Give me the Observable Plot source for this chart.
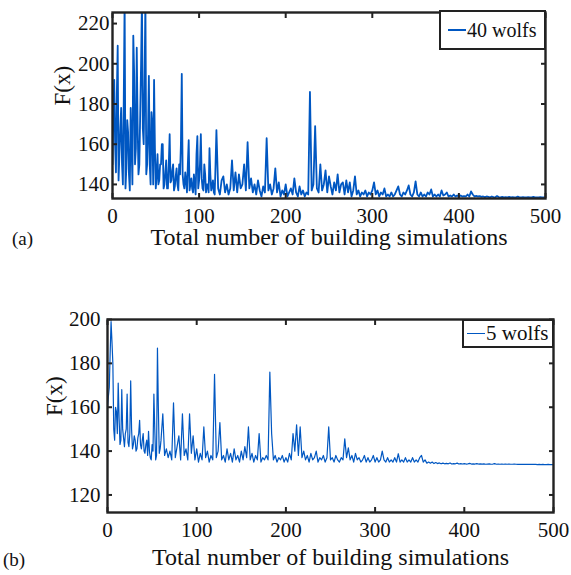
<!DOCTYPE html>
<html>
<head>
<meta charset="utf-8">
<script src="https://cdn.jsdelivr.net/npm/d3@7"></script>
<script src="https://cdn.jsdelivr.net/npm/@observablehq/plot@0.6"></script>
<style>
  html, body { margin: 0; padding: 0; background: #fff; }
  #wrap { position: relative; width: 571px; height: 575px; font-family: "Liberation Serif", "Times New Roman", serif; color: #111; }
  .panel { position: absolute; left: 0; }
  .legend { position: absolute; background: #fff; border: 2px solid #222; box-sizing: border-box; display: flex; align-items: center; white-space: nowrap; }
  .legend .sw { display: inline-block; height: 1.6px; background: #0057c2; margin-right: 1px; }
  .tag { position: absolute; font-size: 19px; }
</style>
</head>
<body>
<div id="wrap"></div>
<script>
// ---- data ----
const xTicks = [0, 100, 200, 300, 400, 500];
const yTicksA = [140, 160, 180, 200, 220];
const yTicksB = [120, 140, 160, 180, 200];
const xLabel = "Total number of building simulations";
const yLabel = "F(x)";
const seriesNameA = "40 wolfs";
const seriesNameB = "5 wolfs";
// F(x) at even simulations 0,2,...,500 — 40 wolfs
const wolfs40 = [
  150,192,146,209,155,178,140,232,148,166,
  137,160,214,150,208,145,175,232,160,232,
  150,194,140,170,192,138,155,142,150,160,
  140,152,138,165,142,150,139,148,137,145,
  195,140,146,136,162,140,138,145,135,164,
  142,165,138,150,136,140,158,137,142,135,
  167,138,135,142,144,136,140,135,138,152,
  137,146,136,145,138,140,150,137,161,138,
  143,136,140,135,142,137,134,139,136,163,
  137,140,135,138,148,136,141,134,137,135,
  140,134,136,138,135,143,136,134,139,135,
  137,134,136,135,186,137,140,169,138,136,
  150,137,140,147,136,144,139,135,141,137,
  145,136,140,141,135,142,136,141,134,137,
  144,135,137,134,136,135,137,134,136,135,
  137,141,135,137,134,136,135,138,134,135,
  134,136,134,135,137,139,135,134,136,135,
  137,139.5,135,134,136,141.5,135,134,136,134,
  135,134,136,135,137.5,134,135,134,135,134,
  137,134.5,135,136,134,134.5,134,135,134,134.5,
  134,134.5,134,134.2,134,135,134,136.5,135,134,
  134.3,134,134.2,133.8,134,133.7,134,133.8,133.6,134,
  133.7,133.6,134.2,133.7,133.6,133.8,133.6,133.7,133.6,133.8,
  133.6,133.7,133.6,133.6,133.9,133.6,133.6,133.7,133.6,133.6,
  133.7,133.6,133.6,133.8,133.6,133.6,133.6,133.7,133.6,133.6,
  133.6
];
// F(x) at odd simulations 1,3,...,119 — 40 wolfs (dense early search)
const wolfs40Odd = [
  175,160,185,142,168,150,182,138,172,145,
  178,140,195,158,170,150,200,168,190,145,
  165,150,176,140,158,145,140,150,160,138,
  146,138,150,141,147,137,144,140,150,160,
  145,138,142,150,137,143,136,140,155,138,
  150,143,137,145,140,136,145,139,136,150
];
// F(x) at even simulations 0,2,...,500 — 5 wolfs
const wolfs5 = [
  160,169,199,180,145,158,171,143,168,146,
  148,166,142,172,141,147,140,146,154,141,
  148,139,145,149,137,143,166,136,187,139,
  145,157,138,141,137,140,136,162,137,142,
  147,136,157,138,141,136,157,139,147,136,
  141,135,139,136,151,137,140,135,138,136,
  175,137,140,153,136,138,135,141,136,139,
  135,141,136,138,135,140,136,142,137,151,
  136,139,135,138,136,148,135,137,136,138,
  136,176,148,136,138,135,137,136,138,135,
  137,135,139,136,148,140,152,138,151,137,
  140,136,138,135,139,136,137,140,135,137,
  136,138,135,137,151,136,137,135,138,136,
  135,137,136,145.6,137,141.5,136,138,135,139,
  136,137,135,136,138,135,137,135,136,138,
  135,137,135,136,140,136,135,137,135,136,
  135,137,135,138.8,135,136,135,137,135,136,
  135,137,135,136,135,137,138,135,136,134.5,
  135,134.5,135,134.3,134.8,134.3,134.6,134.2,134.5,134.2,
  134.4,134.2,134.6,134.1,134.3,134.2,134.5,134.1,134.3,134.1,
  134.3,134.1,134.2,134.4,134.1,134.2,134.1,134.3,134.1,134.2,
  134.1,134.2,134.0,134.1,134.2,134.0,134.1,134.3,134.0,134.1,
  134.0,134.1,134.0,134.1,134.0,134.1,134.0,134.0,134.1,134.0,
  133.9,134.0,133.9,134.0,133.9,134.0,133.9,133.9,134.0,133.9,
  133.9,133.8,133.9,133.8,133.9,133.8,133.8,133.9,133.8,133.8,
  133.8
];
// F(x) at odd simulations 1,3,...,59 — 5 wolfs
const wolfs5Odd = [
  165,185,190,150,160,148,155,145,150,142,
  150,144,148,150,143,145,141,148,143,145,
  140,143,138,140,136,140,150,138,160,141
];

const lineColor = "#0057c2";
const toRows = (even, odd) => [
  ...even.map((v, i) => ({sim: i * 2, f: v})),
  ...odd.map((v, i) => ({sim: i * 2 + 1, f: v}))
].sort((a, b) => a.sim - b.sim);

function panel({rows, yDomain, yTicks, height, mt, mb, ml, mr, tickFont, strokeWidth, yLabelDx, xLabelDy, xTickPad, yTickPad}) {
  return Plot.plot({
    width: 571,
    height,
    marginTop: mt, marginBottom: mb, marginLeft: ml, marginRight: mr,
    style: {fontFamily: "Liberation Serif, Times New Roman, serif", color: "#111", background: "#fff"},
    x: {domain: [0, 500]},
    y: {domain: yDomain},
    marks: [
      Plot.line(rows, {x: "sim", y: "f", stroke: lineColor, strokeWidth, clip: true}),
      Plot.frame({stroke: "#222", strokeWidth: 2.4}),
      // inward ticks on all four sides
      Plot.axisX(xTicks, {anchor: "bottom", tickSize: -5, tickFormat: () => "", stroke: "#222", strokeWidth: 2, label: null}),
      Plot.axisX(xTicks, {anchor: "top", tickSize: -5, tickFormat: () => "", stroke: "#222", strokeWidth: 2, label: null}),
      Plot.axisY(yTicks, {anchor: "left", tickSize: -5, tickFormat: () => "", stroke: "#222", strokeWidth: 2, label: null}),
      Plot.axisY(yTicks, {anchor: "right", tickSize: -5, tickFormat: () => "", stroke: "#222", strokeWidth: 2, label: null}),
      // tick labels
      Plot.text(xTicks, {x: d => d, frameAnchor: "bottom", dy: xTickPad, lineAnchor: "top", fontSize: tickFont, fill: "#111"}),
      Plot.text(yTicks, {y: d => d, frameAnchor: "left", dx: -yTickPad, textAnchor: "end", lineAnchor: "middle", fontSize: tickFont, fill: "#111"}),
      // axis titles
      Plot.text([xLabel], {frameAnchor: "bottom", dy: xLabelDy, fontSize: 24, lineAnchor: "bottom", fill: "#111"}),
      Plot.text([yLabel], {frameAnchor: "left", dx: yLabelDx, rotate: -90, fontSize: 23, lineAnchor: "middle", fill: "#111"})
    ]
  });
}

const wrap = document.getElementById("wrap");

const pa = panel({rows: toRows(wolfs40, wolfs40Odd), yDomain: [133, 225.5], yTicks: yTicksA, height: 255,
  mt: 12, mb: 57, ml: 112, mr: 26, tickFont: 21, strokeWidth: 1.8, yLabelDx: -50, xLabelDy: 46, xTickPad: 10, yTickPad: 3});
pa.classList.add("panel"); pa.style.top = "0px";
wrap.appendChild(pa);

const pb = panel({rows: toRows(wolfs5, wolfs5Odd), yDomain: [112, 200], yTicks: yTicksB, height: 275,
  mt: 19, mb: 63, ml: 107, mr: 18, tickFont: 21, strokeWidth: 1.2, yLabelDx: -53, xLabelDy: 52, xTickPad: 10, yTickPad: 7});
pb.classList.add("panel"); pb.style.top = "300px";
wrap.appendChild(pb);

function legend(name, left, top, w, h, swLeft, swW, fs) {
  const d = document.createElement("div");
  d.className = "legend";
  d.style.left = left + "px"; d.style.top = top + "px";
  d.style.width = w + "px"; d.style.height = h + "px";
  d.style.paddingLeft = swLeft + "px";
  d.style.fontSize = fs + "px";
  const s = document.createElement("span"); s.className = "sw"; s.style.width = swW + "px";
  const t = document.createElement("span"); t.textContent = name;
  d.appendChild(s); d.appendChild(t);
  wrap.appendChild(d);
}
legend(seriesNameA, 439, 10, 107, 40, 7, 18, 20);
legend(seriesNameB, 462, 319, 92, 29, 3, 18, 21);

function tag(txt, left, top) {
  const d = document.createElement("div"); d.className = "tag";
  d.style.left = left + "px"; d.style.top = top + "px"; d.textContent = txt;
  wrap.appendChild(d);
}
tag("(a)", 12, 228);
tag("(b)", 3, 549);
</script>
</body>
</html>
